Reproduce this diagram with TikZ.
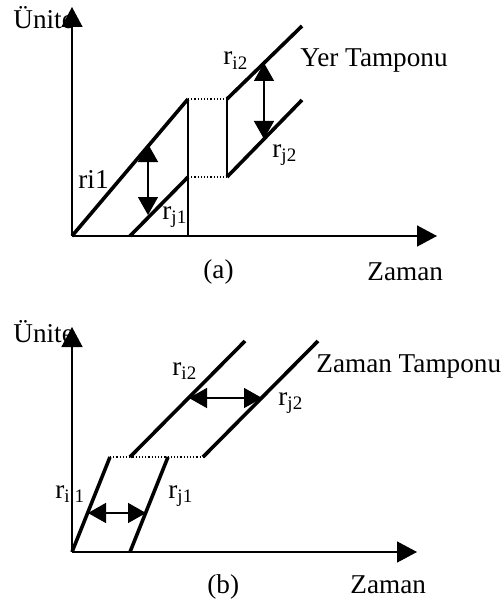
\documentclass[tikz,border=0pt]{standalone}
\usepackage{fontspec}
\setmainfont{Liberation Serif}
\usetikzlibrary{arrows.meta}

\tikzset{
  axis/.style={line width=0.75pt,-{Triangle[width=10.5pt,length=10pt]}},
  task/.style={line width=1.8pt},
  guide/.style={line width=0.75pt},
  gap/.style={line width=0.7pt,dash pattern=on 0.6pt off 1pt},
  buffer/.style={line width=0.75pt,{Triangle[width=10pt,length=9pt]}-{Triangle[width=10pt,length=9pt]}},
  lbl/.style={inner sep=0pt,anchor=base west,font=\fontsize{13.6}{16}\selectfont},
}

\begin{document}
\begin{tikzpicture}[x=0.5pt,y=-0.5pt]
\useasboundingbox (0,0) rectangle (502,599);
% (a) Yer Tamponu
\begin{scope}
  \node[lbl] (unitA) at (13,29) {Ünite};
  \coordinate (oA) at (72,236);
  \coordinate (yA) at (72,7);
  \coordinate (xA) at (437,236);
  \draw[axis] (oA) -- (yA);
  \draw[axis] (oA) -- (xA);
  \coordinate (i1s) at (72,236);   \coordinate (i1e) at (188,99);
  \coordinate (j1s) at (130,236);  \coordinate (j1e) at (188,177);
  \coordinate (i2s) at (227,99);   \coordinate (i2e) at (302,26);
  \coordinate (j2s) at (227,177);  \coordinate (j2e) at (302,100);
  \draw[task] (i1s) -- (i1e);
  \draw[task] (j1s) -- (j1e);
  \draw[task] (i2s) -- (i2e);
  \draw[task] (j2s) -- (j2e);
  \draw[guide] (i1e) -- (188,236);
  \draw[guide] (i2s) -- (j2s);
  \draw[gap] (i1e) -- (i2s);
  \draw[gap] (j1e) -- (j2s);
  \draw[buffer] (148,144) -- (148,215);
  \draw[buffer] (264,63) -- (264,139);
  \node[lbl] (ri1A) at (78,188) {ri1};
  \node[lbl] (rj1A) at (162,219) {r\textsubscript{j1}};
  \node[lbl] (ri2A) at (223,65) {r\textsubscript{i2}};
  \node[lbl] (rj2A) at (272,157) {r\textsubscript{j2}};
  \node[lbl] (bufA) at (300,67) {Yer Tamponu};
  \node[lbl] (capA) at (203,278) {(a)};
  \node[lbl] (timeA) at (367,280) {Zaman};
\end{scope}
% (b) Zaman Tamponu
\begin{scope}
  \node[lbl] (unitB) at (13,342) {Ünite};
  \coordinate (oB) at (72,552);
  \coordinate (yB) at (72,327);
  \coordinate (xB) at (417,552);
  \draw[axis] (oB) -- (yB);
  \draw[axis] (oB) -- (xB);
  \coordinate (k1s) at (72,552);   \coordinate (k1e) at (110,457);
  \coordinate (l1s) at (130,552);  \coordinate (l1e) at (168,457);
  \coordinate (k2s) at (130,457);  \coordinate (k2e) at (245,341);
  \coordinate (l2s) at (203,457);  \coordinate (l2e) at (318,341);
  \draw[task] (k1s) -- (k1e);
  \draw[task] (l1s) -- (l1e);
  \draw[task] (k2s) -- (k2e);
  \draw[task] (l2s) -- (l2e);
  \draw[gap] (k1e) -- (l2s);
  \draw[buffer] (189,398) -- (262,398);
  \draw[buffer] (88,513) -- (146,513);
  \node[lbl] (ri1B) at (55,498) {r\textsubscript{i 1}};
  \node[lbl] (rj1B) at (168,498) {r\textsubscript{j1}};
  \node[lbl] (ri2B) at (172,375) {r\textsubscript{i2}};
  \node[lbl] (rj2B) at (278,405) {r\textsubscript{j2}};
  \node[lbl] (bufB) at (316,372) {Zaman Tamponu};
  \node[lbl] (capB) at (207,593) {(b)};
  \node[lbl] (timeB) at (350,593) {Zaman};
\end{scope}
\end{tikzpicture}
\end{document}
